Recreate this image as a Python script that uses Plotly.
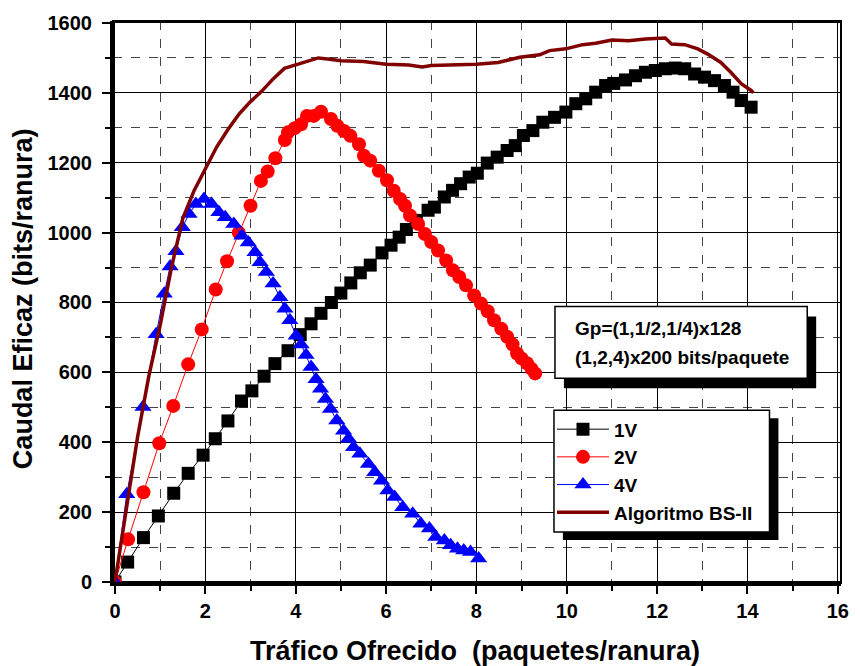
import plotly.graph_objects as go

# ---------------- data ----------------
x_1v = [0, 0.28, 0.63, 0.96, 1.3, 1.62, 1.95, 2.22, 2.5, 2.8, 3.03, 3.3, 3.54, 3.83, 4.1, 4.34,
        4.56, 4.79, 5.0, 5.22, 5.43, 5.65, 5.91, 6.11, 6.29, 6.45, 6.67, 6.93, 7.07, 7.29, 7.47,
        7.65, 7.84, 8.02, 8.24, 8.46, 8.68, 8.86, 9.04, 9.25, 9.47, 9.73, 9.98, 10.2, 10.42,
        10.64, 10.86, 11.04, 11.3, 11.52, 11.74, 11.96, 12.18, 12.4, 12.61, 12.83, 13.05,
        13.27, 13.49, 13.68, 13.86, 14.08]
y_1v = [0, 57, 127, 189, 254, 311, 363, 410, 461, 518, 547, 589, 625, 662, 708, 739,
        769, 800, 827, 856, 885, 907, 942, 964, 987, 1009, 1035, 1064, 1073, 1102, 1121,
        1140, 1159, 1170, 1199, 1216, 1235, 1249, 1278, 1292, 1316, 1330, 1345, 1369, 1383,
        1402, 1421, 1427, 1437, 1449, 1459, 1464, 1469, 1471, 1469, 1454, 1445,
        1435, 1421, 1402, 1378, 1359]

x_2v = [0, 0.29, 0.63, 0.98, 1.29, 1.62, 1.92, 2.23, 2.48, 2.74, 3.0, 3.23, 3.38, 3.55, 3.76,
        3.83, 3.98, 4.12, 4.25, 4.4, 4.56, 4.78, 4.92, 5.07, 5.21, 5.4, 5.51, 5.65, 5.84, 6.02,
        6.17, 6.31, 6.42, 6.53, 6.71, 6.86, 7.0, 7.15, 7.33, 7.48, 7.62, 7.77, 7.95, 8.1, 8.25,
        8.39, 8.55, 8.68, 8.8, 8.9, 9.0, 9.12, 9.22, 9.3]
y_2v = [0, 122, 257, 397, 504, 623, 723, 837, 918, 1000, 1077, 1148, 1175, 1213, 1265,
        1287, 1299, 1310, 1334, 1334, 1346, 1325, 1306, 1291, 1277, 1253, 1220, 1206, 1177, 1150,
        1120, 1096, 1077, 1049, 1025, 996, 973, 949, 920, 892, 873, 849, 820, 797, 775,
        749, 725, 702, 680, 654, 640, 626, 610, 597]

x_4v = [0, 0.26, 0.62, 0.91, 1.09, 1.22, 1.35, 1.49, 1.64, 1.79, 1.97, 2.14, 2.3, 2.44, 2.63,
        2.81, 2.95, 3.1, 3.21, 3.35, 3.5, 3.65, 3.76, 3.87, 4.01, 4.12, 4.23, 4.34, 4.45, 4.55,
        4.66, 4.77, 4.91, 5.06, 5.17, 5.28, 5.42, 5.61, 5.75, 5.9, 6.04, 6.19, 6.37, 6.59, 6.77,
        6.96, 7.1, 7.29, 7.43, 7.58, 7.72, 7.87, 8.05]
y_4v = [0, 251, 501, 709, 825, 903, 947, 1015, 1053, 1082, 1096, 1082, 1058, 1044, 1025,
        991, 972, 944, 915, 887, 854, 815, 782, 749, 705, 680, 650, 615, 580, 553,
        524, 495, 462, 433, 410, 386, 367, 338, 314, 290, 262, 243, 214, 195, 167,
        153, 129, 119, 105, 95, 90, 86, 67]

x_bs = [0, 0.25, 0.5, 0.75, 1.0, 1.25, 1.5, 1.75, 2.0, 2.25, 2.5, 2.75, 3.0, 3.25, 3.5, 3.75,
        4.0, 4.25, 4.5, 4.75, 5.0, 5.5, 6.0, 6.5, 6.8, 7.0, 7.5, 8.0, 8.48, 8.96, 9.4, 9.62,
        9.98, 10.35, 10.64, 11.0, 11.37, 11.74, 12.18, 12.32, 12.61, 12.9, 13.12, 13.41,
        13.63, 13.86, 14.08, 14.13]
y_bs = [0, 200, 415, 590, 735, 900, 1040, 1120, 1185, 1245, 1295, 1340, 1375, 1405, 1440, 1470,
        1480, 1490, 1500, 1496, 1492, 1490, 1482, 1480, 1474, 1478, 1480, 1482, 1487, 1502, 1509, 1521,
        1526, 1538, 1542, 1551, 1549, 1554, 1557, 1540, 1538, 1526, 1511, 1487,
        1459, 1426, 1407, 1400]

series_names = ["1V", "2V", "4V", "Algoritmo BS-II"]
x_ticks = list(range(0, 17, 2))
y_ticks = list(range(0, 1601, 200))
note_lines = ["Gp=(1,1/2,1/4)x128", "(1,2,4)x200 bits/paquete"]
x_title = "Tráfico Ofrecido  (paquetes/ranura)"
y_title = "Caudal Eficaz (bits/ranura)"

# ---------------- figure ----------------
FONT = "Liberation Sans, Arial, sans-serif"
fig = go.Figure()
fig.add_trace(go.Scatter(x=x_1v, y=y_1v, name=series_names[0], mode="lines+markers",
                         line=dict(color="black", width=1),
                         marker=dict(symbol="square", size=13, color="black")))
fig.add_trace(go.Scatter(x=x_2v, y=y_2v, name=series_names[1], mode="lines+markers",
                         line=dict(color="red", width=1),
                         marker=dict(symbol="circle", size=14, color="red")))
fig.add_trace(go.Scatter(x=x_4v, y=y_4v, name=series_names[2], mode="lines+markers",
                         line=dict(color="blue", width=1),
                         marker=dict(symbol="triangle-up", size=15, color="blue")))
fig.add_trace(go.Scatter(x=x_bs, y=y_bs, name=series_names[3], mode="lines",
                         line=dict(color="#800000", width=3.5)))

L, R, T, B = 113, 15, 20, 83
W, H = 861, 666
pw, ph = W - L - R, H - T - B


def px2paper_x(px):
    return (px - L) / pw


def px2paper_y(py):
    return (H - B - py) / ph


axis_common = dict(showgrid=True, gridcolor="black", gridwidth=1,
                   showline=True, linecolor="black", linewidth=3,
                   ticks="outside", ticklen=8, tickwidth=2, tickcolor="black",
                   tickfont=dict(family=FONT, size=20, color="black", weight="bold"),
                   zeroline=False)

fig.update_xaxes(range=[-0.044, 16.07], tickvals=x_ticks, **axis_common,
                 minor=dict(dtick=1, showgrid=True, griddash="dash", gridcolor="#444",
                            gridwidth=1, ticks="outside", ticklen=5, tickwidth=1.5,
                            tickcolor="black"))
fig.update_yaxes(range=[-2.9, 1605.7], tickvals=y_ticks, **axis_common,
                 ticklabelstandoff=6,
                 minor=dict(dtick=100, showgrid=True, griddash="dash", gridcolor="#444",
                            gridwidth=1, ticks="outside", ticklen=5, tickwidth=1.5,
                            tickcolor="black"))


def boxed(shapes, box, dx, dy):
    # shadow then white framed box, in paper coordinates from pixel box
    x0, y0, x1, y1 = box
    shapes.append(dict(type="rect", xref="paper", yref="paper",
                       x0=px2paper_x(x0 + dx), x1=px2paper_x(x1 + dx),
                       y0=px2paper_y(y1 + dy), y1=px2paper_y(y0 + dy),
                       fillcolor="black", line=dict(width=0), layer="above"))
    shapes.append(dict(type="rect", xref="paper", yref="paper",
                       x0=px2paper_x(x0), x1=px2paper_x(x1),
                       y0=px2paper_y(y1), y1=px2paper_y(y0),
                       fillcolor="white", line=dict(color="black", width=1.5), layer="above"))


shapes = []
# plot frame (top/right)
shapes.append(dict(type="rect", xref="paper", yref="paper", x0=0, x1=1, y0=0, y1=1,
                   line=dict(color="black", width=2), layer="above"))
nb = (558, 306, 812, 378)
boxed(shapes, nb, 9, 10)
lb = (557, 410, 774, 532)
boxed(shapes, lb, 9, 8)

annotations = []
annotations.append(dict(text=note_lines[0], xref="paper", yref="paper",
                        x=px2paper_x(576), y=px2paper_y(328), xanchor="left", yanchor="middle",
                        showarrow=False,
                        font=dict(family=FONT, size=19, color="black", weight="bold")))
annotations.append(dict(text=note_lines[1], xref="paper", yref="paper",
                        x=px2paper_x(576), y=px2paper_y(357), xanchor="left", yanchor="middle",
                        showarrow=False,
                        font=dict(family=FONT, size=19, color="black", weight="bold")))
annotations.append(dict(text=x_title, xref="paper", yref="paper",
                        x=px2paper_x(477), y=px2paper_y(651), xanchor="center", yanchor="middle",
                        showarrow=False,
                        font=dict(family=FONT, size=27, color="black", weight="bold")))
annotations.append(dict(text=y_title, xref="paper", yref="paper", textangle=-90,
                        x=px2paper_x(22), y=px2paper_y(298), xanchor="center", yanchor="middle",
                        showarrow=False,
                        font=dict(family=FONT, size=27, color="black", weight="bold")))

fig.update_layout(
    width=W, height=H,
    margin=dict(l=L, r=R, t=T, b=B),
    paper_bgcolor="white", plot_bgcolor="white",
    shapes=shapes, annotations=annotations,
    showlegend=True,
    legend=dict(x=px2paper_x(lb[0] - 2), y=px2paper_y(lb[1]), xanchor="left", yanchor="top",
                bgcolor="rgba(0,0,0,0)", borderwidth=0,
                font=dict(family=FONT, size=19, color="black", weight="bold"),
                itemwidth=52, tracegroupgap=0),
)

fig.write_html("out.html")
